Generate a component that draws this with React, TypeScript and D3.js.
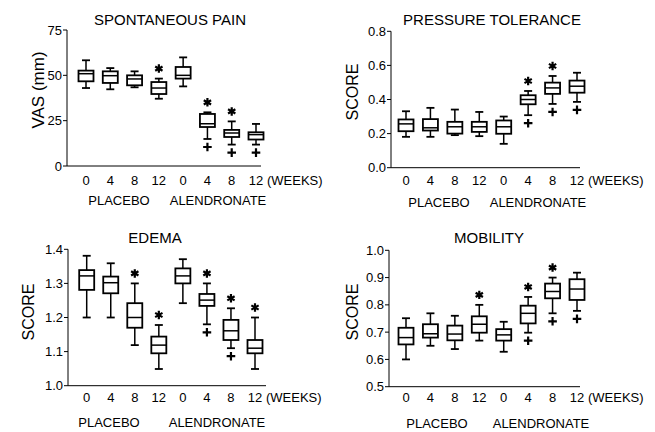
import * as d3 from 'd3';
import React from 'react';

const weeks = ['0', '4', '8', '12', '0', '4', '8', '12'];
const groupNames = ['PLACEBO', 'ALENDRONATE'];
const keys = weeks.map((w, i) => (i < 4 ? 'P' : 'A') + w);

// spontaneous pain (VAS mm)
const painLow = [43, 42.3, 43.4, 37.1, 43.9, 14.9, 11.8, 11.8];
const painQ1 = [46.7, 45.8, 44.5, 39.7, 48.2, 21.5, 16, 14.6];
const painMed = [50.9, 49.8, 48, 43, 50, 23.3, 18.2, 17.3];
const painQ3 = [52.6, 52.2, 50, 46.3, 54.6, 28.7, 19.9, 18.6];
const painHigh = [58.3, 54, 52.2, 48.2, 59.9, 29.6, 24.6, 23.2];
const painStar = [0, 0, 0, 1, 0, 1, 1, 0];
const painPlus = [0, 0, 0, 0, 0, 1, 1, 1];

// pressure tolerance
const pressLow = [0.181, 0.181, 0.191, 0.185, 0.14, 0.308, 0.374, 0.386];
const pressQ1 = [0.214, 0.218, 0.2, 0.21, 0.199, 0.372, 0.433, 0.44];
const pressMed = [0.257, 0.234, 0.24, 0.24, 0.24, 0.4, 0.468, 0.478];
const pressQ3 = [0.283, 0.285, 0.269, 0.269, 0.277, 0.425, 0.499, 0.511];
const pressHigh = [0.331, 0.351, 0.341, 0.327, 0.3, 0.45, 0.538, 0.557];
const pressStar = [0, 0, 0, 0, 0, 1, 1, 0];
const pressPlus = [0, 0, 0, 0, 0, 1, 1, 1];

// edema
const edemaLow = [1.2, 1.2, 1.119, 1.049, 1.242, 1.18, 1.11, 1.049];
const edemaQ1 = [1.281, 1.271, 1.17, 1.095, 1.3, 1.234, 1.134, 1.095];
const edemaMed = [1.322, 1.302, 1.2, 1.119, 1.322, 1.251, 1.161, 1.11];
const edemaQ3 = [1.339, 1.32, 1.242, 1.144, 1.344, 1.269, 1.193, 1.134];
const edemaHigh = [1.381, 1.359, 1.3, 1.178, 1.371, 1.3, 1.227, 1.2];
const edemaStar = [0, 0, 1, 1, 0, 1, 1, 1];
const edemaPlus = [0, 0, 0, 0, 0, 1, 1, 0];

// mobility
const mobLow = [0.6, 0.65, 0.638, 0.669, 0.628, 0.698, 0.769, 0.778];
const mobQ1 = [0.655, 0.68, 0.67, 0.698, 0.669, 0.732, 0.824, 0.818];
const mobMed = [0.68, 0.694, 0.693, 0.729, 0.69, 0.769, 0.849, 0.858];
const mobQ3 = [0.716, 0.729, 0.724, 0.758, 0.711, 0.797, 0.878, 0.894];
const mobHigh = [0.751, 0.769, 0.76, 0.8, 0.738, 0.829, 0.9, 0.918];
const mobStar = [0, 0, 0, 1, 0, 1, 1, 0];
const mobPlus = [0, 0, 0, 0, 0, 1, 1, 1];

const panels = [
  {
    title: 'SPONTANEOUS PAIN', yLabel: 'VAS (mm)', yLabelSize: 17,
    low: painLow, q1: painQ1, med: painMed, q3: painQ3, high: painHigh, star: painStar, plus: painPlus,
    domain: [0, 75], ticks: [0, 25, 50, 75], fmt: d3.format('d'),
    left: 67, top: 30, bottom: 166, x0: 86, x1: 256, axisEnd: 261,
    titleX: 170, titleY: 25, yLabelX: 44, yLabelY: 90, tickY: 185, groupY: 205, groupX: [119, 218],
  },
  {
    title: 'PRESSURE TOLERANCE', yLabel: 'SCORE', yLabelSize: 16,
    low: pressLow, q1: pressQ1, med: pressMed, q3: pressQ3, high: pressHigh, star: pressStar, plus: pressPlus,
    domain: [0, 0.8], ticks: [0, 0.2, 0.4, 0.6, 0.8], fmt: d3.format('.1f'),
    left: 391, top: 31.3, bottom: 167.7, x0: 406, x1: 577, axisEnd: 580,
    titleX: 492, titleY: 25, yLabelX: 358, yLabelY: 92, tickY: 185, groupY: 207, groupX: [439, 538],
  },
  {
    title: 'EDEMA', yLabel: 'SCORE', yLabelSize: 16,
    low: edemaLow, q1: edemaQ1, med: edemaMed, q3: edemaQ3, high: edemaHigh, star: edemaStar, plus: edemaPlus,
    domain: [1.0, 1.4], ticks: [1.0, 1.1, 1.2, 1.3, 1.4], fmt: d3.format('.1f'),
    left: 68, top: 249.3, bottom: 385.7, x0: 86.7, x1: 255, axisEnd: 266,
    titleX: 155, titleY: 243, yLabelX: 34, yLabelY: 312, tickY: 402, groupY: 427, groupX: [109, 217],
  },
  {
    title: 'MOBILITY', yLabel: 'SCORE', yLabelSize: 16,
    low: mobLow, q1: mobQ1, med: mobMed, q3: mobQ3, high: mobHigh, star: mobStar, plus: mobPlus,
    domain: [0.5, 1.0], ticks: [0.5, 0.6, 0.7, 0.8, 0.9, 1.0], fmt: d3.format('.1f'),
    left: 389, top: 250.3, bottom: 386.7, x0: 406, x1: 577, axisEnd: 580,
    titleX: 489, titleY: 243, yLabelX: 358, yLabelY: 312, tickY: 402, groupY: 428, groupX: [437, 541],
  },
];

const font = '"Liberation Sans", Arial, Helvetica, sans-serif';
const boxW = 15;
const capW = 8;

const astType = (d3 as any).symbolAsterisk || d3.symbolStar;
const plusType = (d3 as any).symbolPlus || d3.symbolCross;
const starPath = d3.symbol().type(astType).size(50)();
const plusPath = d3.symbol().type(plusType).size(26)();

function Panel({ cfg }: { cfg: any }) {
  const x = d3.scalePoint<string>().domain(keys).range([cfg.x0, cfg.x1]);
  const y = d3.scaleLinear().domain(cfg.domain).range([cfg.bottom, cfg.top]);

  return (
    <g>
      <text x={cfg.titleX} y={cfg.titleY} textAnchor="middle" fontSize={15}>{cfg.title}</text>
      <text transform={`translate(${cfg.yLabelX},${cfg.yLabelY}) rotate(-90)`} textAnchor="middle" fontSize={cfg.yLabelSize}>
        {cfg.yLabel}
      </text>

      {/* y axis */}
      <line x1={cfg.left} x2={cfg.left} y1={y(cfg.domain[1])} y2={y(cfg.domain[0])} stroke="#000" strokeWidth={1} />
      {cfg.ticks.map((t: number) => (
        <g key={t}>
          <line x1={cfg.left - 4} x2={cfg.left} y1={y(t)} y2={y(t)} stroke="#000" strokeWidth={1} />
          <text x={cfg.left - 5} y={y(t)} dy="0.35em" textAnchor="end" fontSize={13}>{cfg.fmt(t)}</text>
        </g>
      ))}

      {/* x axis */}
      <line x1={cfg.left} x2={cfg.axisEnd} y1={cfg.bottom} y2={cfg.bottom} stroke="#000" strokeWidth={1} />
      {keys.map((k, i) => (
        <text key={k} x={x(k)} y={cfg.tickY} textAnchor="middle" fontSize={13}>{weeks[i]}</text>
      ))}
      <text x={(x(keys[7]) as number) + 11} y={cfg.tickY} fontSize={13}>(WEEKS)</text>
      {groupNames.map((g, i) => (
        <text key={g} x={cfg.groupX[i]} y={cfg.groupY} textAnchor="middle" fontSize={13}>{g}</text>
      ))}

      {/* boxes */}
      {keys.map((k, i) => {
        const cx = x(k) as number;
        return (
          <g key={k} stroke="#000" fill="none">
            <line x1={cx} x2={cx} y1={y(cfg.high[i])} y2={y(cfg.q3[i])} strokeWidth={1.5} />
            <line x1={cx} x2={cx} y1={y(cfg.q1[i])} y2={y(cfg.low[i])} strokeWidth={1.5} />
            <line x1={cx - capW / 2} x2={cx + capW / 2} y1={y(cfg.high[i])} y2={y(cfg.high[i])} strokeWidth={1.8} />
            <line x1={cx - capW / 2} x2={cx + capW / 2} y1={y(cfg.low[i])} y2={y(cfg.low[i])} strokeWidth={1.8} />
            <rect x={cx - boxW / 2} y={y(cfg.q3[i])} width={boxW} height={y(cfg.q1[i]) - y(cfg.q3[i])} strokeWidth={1.8} fill="#fff" />
            <line x1={cx - boxW / 2} x2={cx + boxW / 2} y1={y(cfg.med[i])} y2={y(cfg.med[i])} strokeWidth={1.5} />
            {cfg.star[i] ? (
              <path d={starPath as string} transform={`translate(${cx},${y(cfg.high[i]) - 10})`} strokeWidth={2.2} />
            ) : null}
            {cfg.plus[i] ? (
              <path d={plusPath as string} transform={`translate(${cx},${y(cfg.low[i]) + 8})`} strokeWidth={2.2} />
            ) : null}
          </g>
        );
      })}
    </g>
  );
}

export default function App() {
  return (
    <svg width={655} height={432} style={{ position: 'absolute', left: 0, top: 0, background: '#fff' }} fontFamily={font}>
      <rect width={655} height={432} fill="#fff" />
      {panels.map((p) => (
        <Panel key={p.title} cfg={p} />
      ))}
    </svg>
  );
}
